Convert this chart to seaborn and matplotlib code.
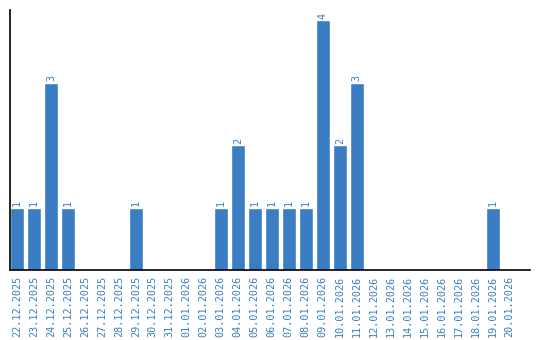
import matplotlib
matplotlib.use("Agg")
import matplotlib.pyplot as plt
import seaborn as sns
import pandas as pd

dates = ["22.12.2025", "23.12.2025", "24.12.2025", "25.12.2025", "26.12.2025",
         "27.12.2025", "28.12.2025", "29.12.2025", "30.12.2025", "31.12.2025",
         "01.01.2026", "02.01.2026", "03.01.2026", "04.01.2026", "05.01.2026",
         "06.01.2026", "07.01.2026", "08.01.2026", "09.01.2026", "10.01.2026",
         "11.01.2026", "12.01.2026", "13.01.2026", "14.01.2026", "15.01.2026",
         "16.01.2026", "17.01.2026", "18.01.2026", "19.01.2026", "20.01.2026"]
counts = [1, 1, 3, 1, 0, 0, 0, 1, 0, 0,
          0, 0, 1, 2, 1, 1, 1, 1, 4, 2,
          3, 0, 0, 0, 0, 0, 0, 0, 1, 0]

df = pd.DataFrame({"date": dates, "count": counts})

sns.set_style("white")
plt.rcParams["font.family"] = ["DejaVu Sans Mono", "DejaVu Sans"]

blue = "#3b7dc2"
fig = plt.figure(figsize=(5.4, 3.4), dpi=100)
ax = fig.add_axes([10 / 540, 70 / 340, 520 / 540, 260 / 340])

sns.barplot(data=df, x="date", y="count", color=blue, saturation=1,
            width=0.82, ax=ax, order=dates)

labels = [str(v) if v > 0 else "" for v in counts]
ax.bar_label(ax.containers[0], labels=labels, rotation=90, color=blue,
             fontsize=7.3, padding=1)

ax.set_xlim(-0.41, 30.2)
ax.set_ylim(0, 4.16)
ax.set_xlabel("")
ax.set_ylabel("")
ax.set_yticks([])
ax.tick_params(axis="x", length=0, pad=4, labelsize=7.3, labelcolor=blue)
for lab in ax.get_xticklabels():
    lab.set_rotation(90)
for s in ["top", "right"]:
    ax.spines[s].set_visible(False)
for s in ["left", "bottom"]:
    ax.spines[s].set_color("black")
    ax.spines[s].set_linewidth(1.2)

fig.savefig("out.png", dpi=100)
